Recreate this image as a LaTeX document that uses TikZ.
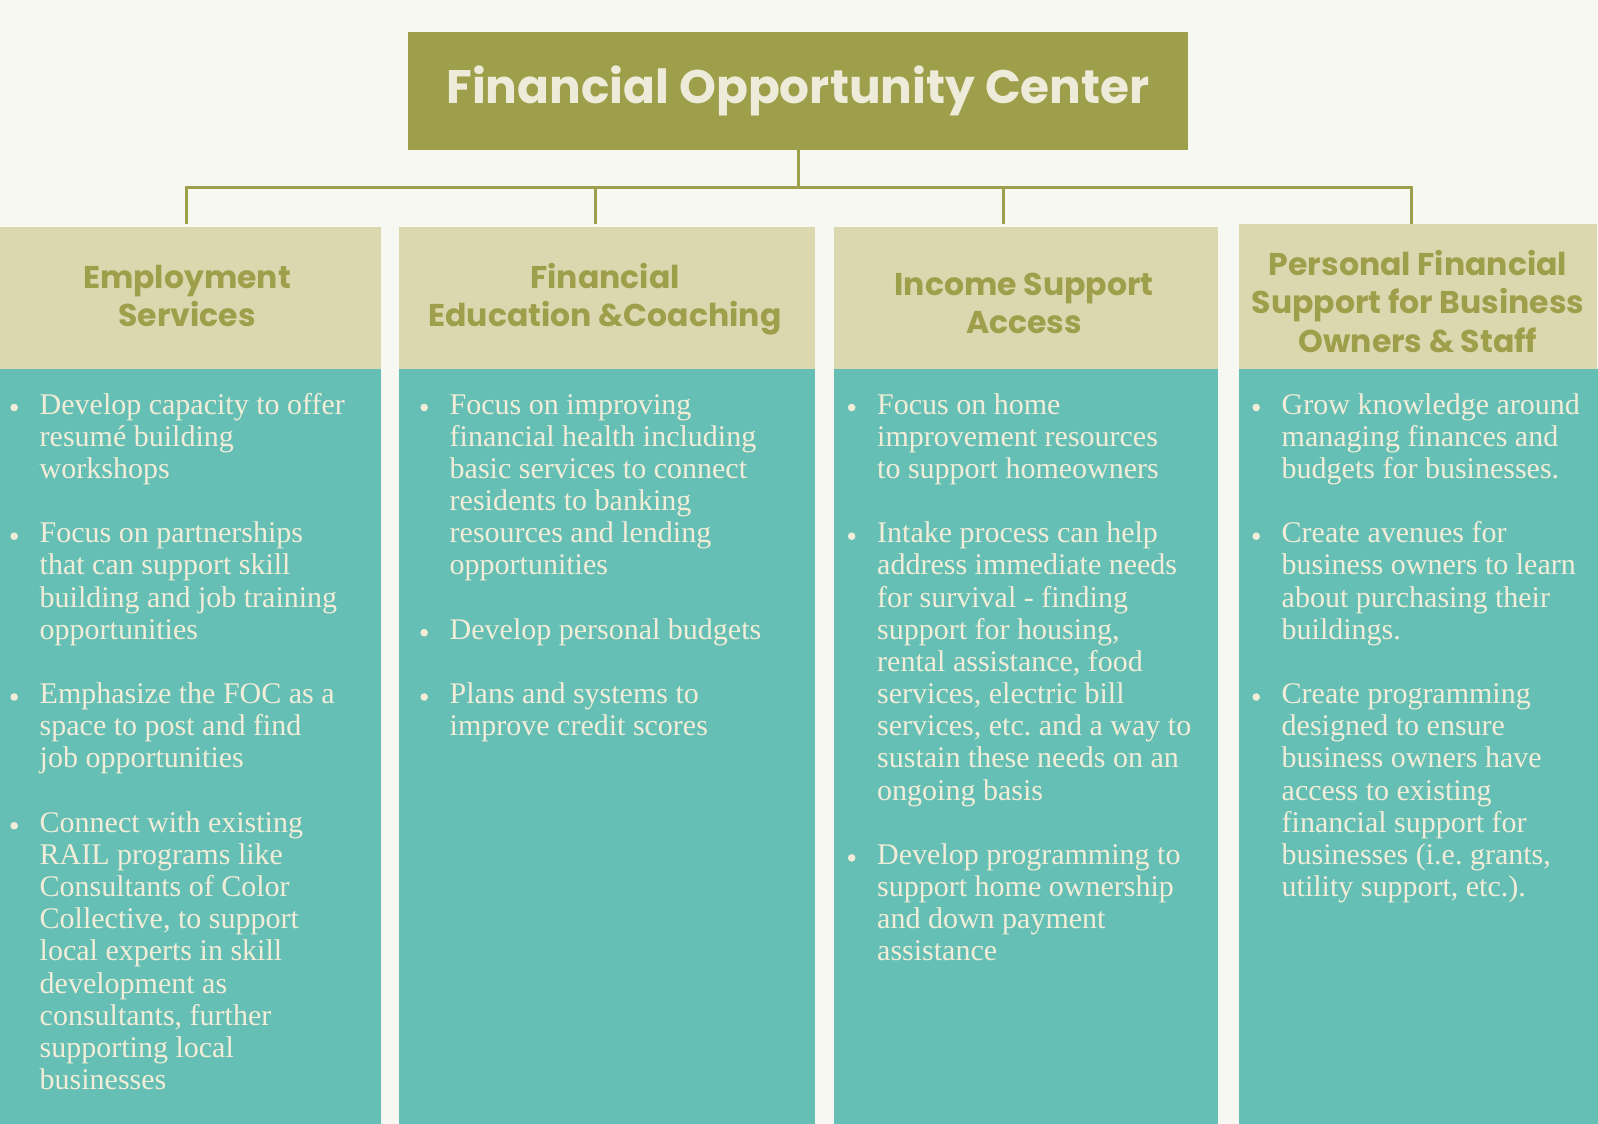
\documentclass[tikz,border=0pt]{standalone}
\usepackage{fontspec}
\setmainfont{Liberation Serif}
\newfontfamily\popfont{Poppins}
\frenchspacing
\definecolor{bgc}{HTML}{F8F8F3}
\definecolor{oliveC}{HTML}{9E9F4A}
\definecolor{titletxt}{HTML}{EFEBDA}
\definecolor{hdrC}{HTML}{DBD8B0}
\definecolor{tealC}{HTML}{66BFB4}
\definecolor{bodytxt}{HTML}{F2EDD8}
\newcommand\itm[1]{\parbox[t]{330pt}{\raggedright\frenchspacing #1}}
\newcommand\hdr[1]{\parbox[t]{400pt}{\centering #1}}
\tikzset{
  conn/.style={draw=oliveC, line width=3pt},
  titlebox/.style={fill=oliveC, inner sep=0pt, minimum width=780pt, minimum height=118pt,
    text=titletxt, font=\popfont\bfseries\fontsize{47}{56}\selectfont},
  hdrbox/.style={fill=hdrC, inner sep=0pt, anchor=north west},
  bodybox/.style={fill=tealC, inner sep=0pt, anchor=north west},
  hdrtext/.style={anchor=base, inner sep=0pt, text=oliveC,
    font=\popfont\bfseries\fontsize{31.5}{38.7}\selectfont},
  item/.style={anchor=base west, inner sep=0pt, text=bodytxt,
    font=\fontsize{30}{32.17}\selectfont},
  bulletdot/.style={fill=bodytxt},
}
\begin{document}
\begin{tikzpicture}[x=1pt,y=1pt]
\useasboundingbox (0,0) rectangle (1598,-1124);
\fill[bgc] (0,0) rectangle (1598,-1124);
% title
\node[titlebox] (title) at (798,-91) {Financial Opportunity Center};
% header boxes
\node[hdrbox, minimum width=381pt, minimum height=142pt] (h1) at (0,-227) {};
\node[hdrbox, minimum width=416pt, minimum height=142pt] (h2) at (399,-227) {};
\node[hdrbox, minimum width=384pt, minimum height=142pt] (h3) at (834,-227) {};
\node[hdrbox, minimum width=358pt, minimum height=145pt] (h4) at (1239,-224) {};
% body boxes
\node[bodybox, minimum width=381pt, minimum height=755pt] (b1) at (0,-369) {};
\node[bodybox, minimum width=416pt, minimum height=755pt] (b2) at (399,-369) {};
\node[bodybox, minimum width=384pt, minimum height=755pt] (b3) at (834,-369) {};
\node[bodybox, minimum width=359pt, minimum height=755pt] (b4) at (1239,-369) {};
% header texts
\node[hdrtext] (h1t) at (187,-288) {\hdr{Employment\\Services}};
\node[hdrtext] (h2t) at (605,-288) {\hdr{Financial\\Education \&Coaching}};
\node[hdrtext] (h3t) at (1024,-295) {\hdr{Income Support\\Access}};
\node[hdrtext] (h4t) at (1418,-275) {\hdr{Personal Financial\\Support for Business\\Owners \& Staff}};
% connectors
\coordinate (bus) at (798,-187);
\coordinate (d1) at (186,-224);
\coordinate (d2) at (595,-224);
\coordinate (d3) at (1003,-224);
\coordinate (d4) at (1411,-224);
\draw[conn] (title.south) -- (title.south |- bus);
\draw[conn] (d1) -- (d1 |- bus) -- (d4 |- bus) -- (d4);
\draw[conn] (d2) -- (d2 |- bus);
\draw[conn] (d3) -- (d3 |- bus);
% column 1
\node[item] (c1a) at (39.5,-414) {\itm{Develop capacity to offer\\resumé building\\workshops}};
\node[item] (c1b) at (39.5,-542.7) {\itm{Focus on partnerships\\that can support skill\\building and job training\\opportunities}};
\node[item] (c1c) at (39.5,-703.5) {\itm{Emphasize the FOC as a\\space to post and find\\job opportunities}};
\node[item] (c1d) at (39.5,-832.2) {\itm{Connect with existing\\RAIL programs like\\Consultants of Color\\Collective, to support\\local experts in skill\\development as\\consultants, further\\supporting local\\businesses}};
% column 2
\node[item] (c2a) at (449.5,-414) {\itm{Focus on improving\\financial health including\\basic services to connect\\residents to banking\\resources and lending\\opportunities}};
\node[item] (c2b) at (449.5,-639.2) {\itm{Develop personal budgets}};
\node[item] (c2c) at (449.5,-703.5) {\itm{Plans and systems to\\improve credit scores}};
% column 3
\node[item] (c3a) at (877,-414) {\itm{Focus on home\\improvement resources\\to support homeowners}};
\node[item] (c3b) at (877,-542.7) {\itm{Intake process can help\\address immediate needs\\for survival - finding\\support for housing,\\rental assistance, food\\services, electric bill\\services, etc. and a way to\\sustain these needs on an\\ongoing basis}};
\node[item] (c3c) at (877,-864.4) {\itm{Develop programming to\\support home ownership\\and down payment\\assistance}};
% column 4
\node[item] (c4a) at (1281.5,-414) {\itm{Grow knowledge around\\managing finances and\\budgets for businesses.}};
\node[item] (c4b) at (1281.5,-542.7) {\itm{Create avenues for\\business owners to learn\\about purchasing their\\buildings.}};
\node[item] (c4c) at (1281.5,-703.5) {\itm{Create programming\\designed to ensure\\business owners have\\access to existing\\financial support for\\businesses (i.e. grants,\\utility support, etc.).}};
% bullets
\foreach \n in {c1a,c1b,c1c,c1d,c2a,c2b,c2c,c3a,c3b,c3c,c4a,c4b,c4c}
  \fill[bulletdot] (\n.base west) ++(-25.3,6.5) circle (3.8pt);
\end{tikzpicture}
\end{document}
